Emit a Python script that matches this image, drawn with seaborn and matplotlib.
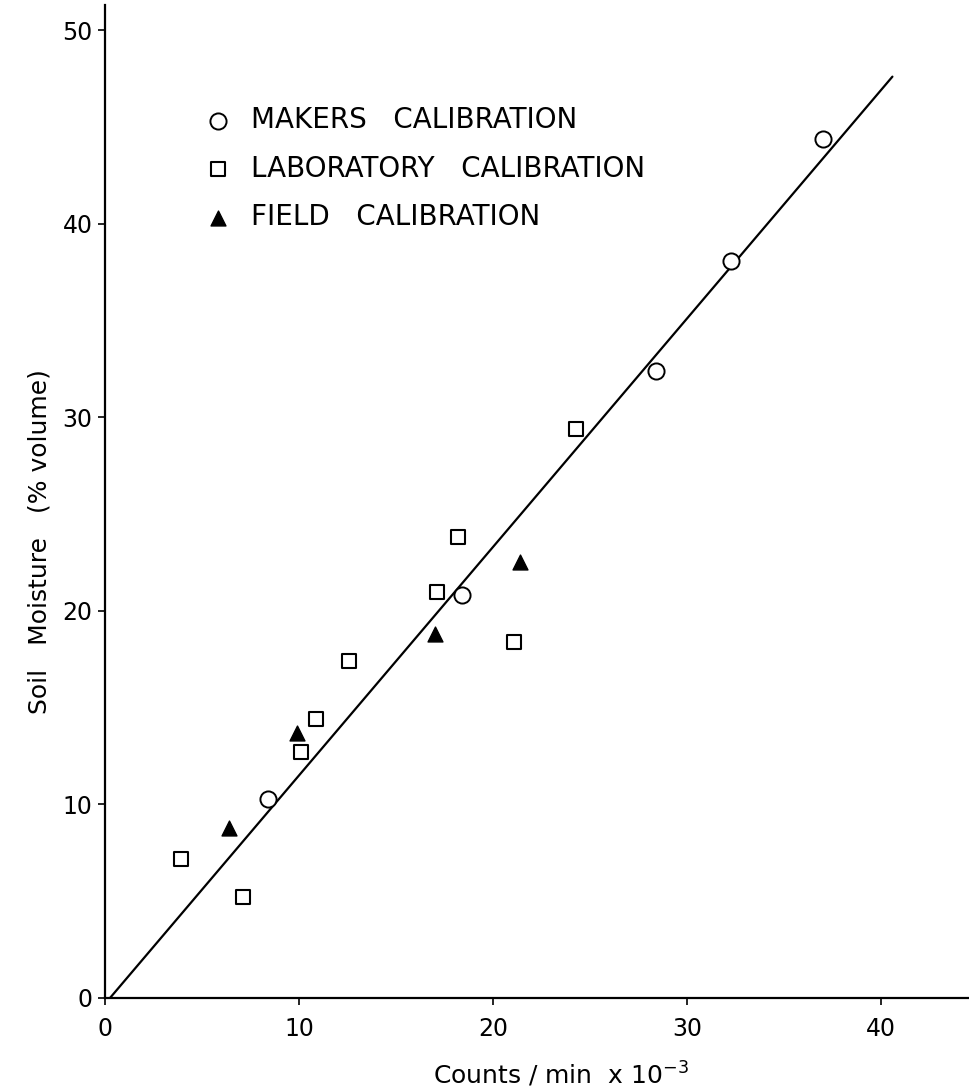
import matplotlib
matplotlib.use("Agg")
import matplotlib.pyplot as plt
import seaborn as sns
import pandas as pd

# ---- data ----
makers_x = [8.4, 18.4, 28.4, 32.3, 37.0]
makers_y = [10.3, 20.8, 32.4, 38.1, 44.4]

lab_x = [3.9, 7.1, 10.1, 10.9, 12.6, 17.1, 18.2, 21.1, 24.3]
lab_y = [7.2, 5.2, 12.7, 14.4, 17.4, 21.0, 23.8, 18.4, 29.4]

field_x = [6.4, 9.9, 17.0, 21.4]
field_y = [8.8, 13.7, 18.8, 22.5]

fit_x = [0.26, 40.6]
fit_y = [0.0, 47.6]

x_ticks = [0, 10, 20, 30, 40]
y_ticks = [0, 10, 20, 30, 40, 50]

labels = ["MAKERS   CALIBRATION", "LABORATORY   CALIBRATION", "FIELD   CALIBRATION"]

sns.set_style("ticks")
plt.rcParams["font.family"] = ["DejaVu Sans"]
plt.rcParams["text.color"] = "black"
plt.rcParams["axes.labelcolor"] = "black"

fig = plt.figure(figsize=(9.7, 10.92), dpi=100)
ax = fig.add_axes([0.1082, 0.0861, 0.8918, 0.9093])

sns.lineplot(x=fit_x, y=fit_y, ax=ax, color="black", linewidth=1.6, zorder=2)

df_m = pd.DataFrame({"x": makers_x, "y": makers_y})
df_l = pd.DataFrame({"x": lab_x, "y": lab_y})
df_f = pd.DataFrame({"x": field_x, "y": field_y})

sns.scatterplot(data=df_m, x="x", y="y", ax=ax, marker="o", s=135,
                facecolor="white", edgecolor="black", linewidth=1.4,
                label=labels[0], zorder=3)
sns.scatterplot(data=df_l, x="x", y="y", ax=ax, marker="s", s=105,
                facecolor="white", edgecolor="black", linewidth=1.5,
                label=labels[1], zorder=3)
sns.scatterplot(data=df_f, x="x", y="y", ax=ax, marker="^", s=115,
                facecolor="black", edgecolor="black", linewidth=1.0,
                label=labels[2], zorder=3)

ax.set_xlim(0, 44.6)
ax.set_ylim(0, 51.3)
ax.set_xticks(x_ticks)
ax.set_yticks(y_ticks)
ax.tick_params(axis="both", direction="out", length=5, width=1.2,
               labelsize=17, colors="black")
ax.tick_params(axis="x", pad=9)
ax.tick_params(axis="y", pad=4)

for side in ["top", "right"]:
    ax.spines[side].set_visible(False)
for side in ["left", "bottom"]:
    ax.spines[side].set_linewidth(1.6)
    ax.spines[side].set_color("black")

ax.set_xlabel("Counts / min  x 10$^{-3}$", fontsize=18, color="black")
ax.set_ylabel("Soil   Moisture   (% volume)", fontsize=18, color="black")
ax.xaxis.set_label_coords(0.527, -0.062)
ax.yaxis.set_label_coords(-0.062, 0.46)

leg = ax.legend(loc="upper left", bbox_to_anchor=(0.1145, 0.898),
                frameon=False, fontsize=20, handlelength=1.0,
                handletextpad=0.7, labelspacing=0.73, borderpad=0,
                borderaxespad=0)
for t in leg.get_texts():
    t.set_color("black")

fig.savefig("out.png", dpi=100)
